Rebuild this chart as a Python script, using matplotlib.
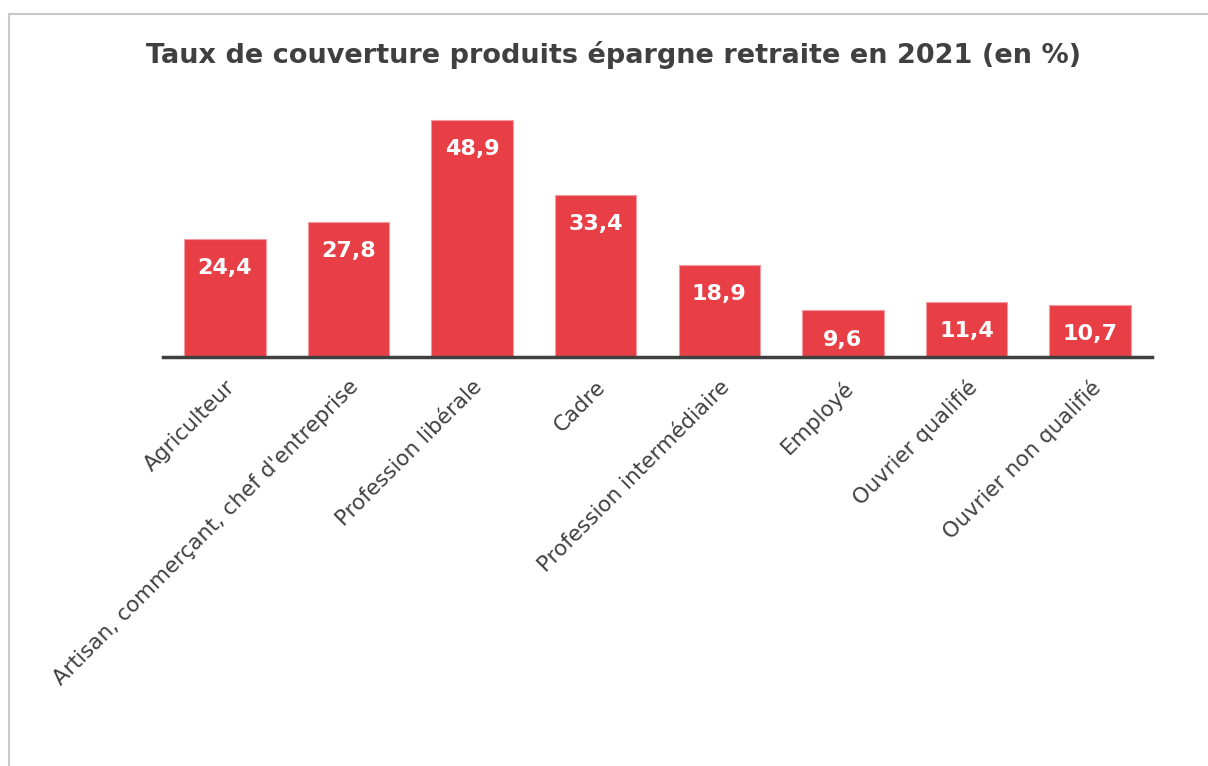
import matplotlib.pyplot as plt
from matplotlib.patches import Rectangle

categories = ['Agriculteur', "Artisan, commerçant, chef d'entreprise",
              'Profession libérale', 'Cadre', 'Profession intermédiaire',
              'Employé', 'Ouvrier qualifié', 'Ouvrier non qualifié']
values = [24.4, 27.8, 48.9, 33.4, 18.9, 9.6, 11.4, 10.7]
value_labels = ['24,4', '27,8', '48,9', '33,4', '18,9', '9,6', '11,4', '10,7']

fig = plt.figure(figsize=(12.08, 7.66), dpi=100)
fig.patches.append(Rectangle((9 / 1208, -0.05), 1.2, 1 - 14 / 766 + 0.05,
                             transform=fig.transFigure, fill=False,
                             edgecolor='#c8c8c8', linewidth=1.5))

ax = fig.add_axes([163 / 1208, 1 - 357 / 766, 989 / 1208, 242.5 / 766])
x = range(len(categories))
bars = ax.bar(x, values, width=0.66, color='#e83e46', edgecolor='#f59aa0',
              linewidth=0.8, zorder=2)

for b, lab in zip(bars, value_labels):
    ax.text(b.get_x() + b.get_width() / 2, b.get_height() - 6.0, lab,
            ha='center', va='center', color='white', fontsize=16,
            fontweight='bold', family='DejaVu Sans')

ax.set_xlim(-0.5, 7.5)
ax.set_ylim(0, 50)
ax.set_yticks([])
ax.set_xticks(list(x))
ax.set_xticklabels(categories, rotation=45, ha='right', rotation_mode='anchor',
                   fontsize=15.5, color='#404040', family='DejaVu Sans')
ax.tick_params(axis='x', length=0, pad=14)
for s in ['top', 'right', 'left']:
    ax.spines[s].set_visible(False)
ax.spines['bottom'].set_color('#404040')
ax.spines['bottom'].set_linewidth(2.5)
ax.spines['bottom'].set_zorder(3)

fig.text(614 / 1208, 1 - 55 / 766, 'Taux de couverture produits épargne retraite en 2021 (en %)',
         ha='center', va='center', fontsize=19.5, fontweight='bold', color='#404040')

fig.savefig('out.png', dpi=100)
